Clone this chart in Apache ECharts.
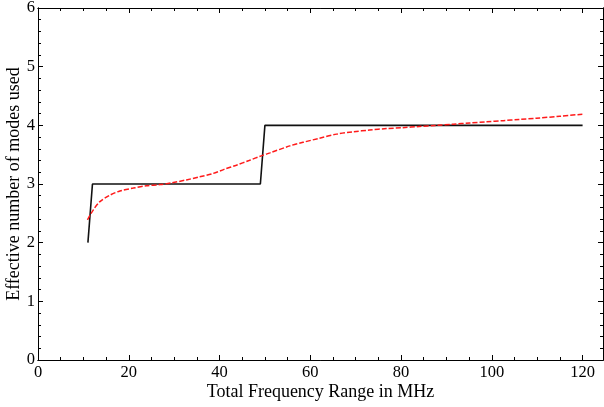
<!DOCTYPE html>
<html>
<head>
<meta charset="utf-8">
<script src="https://cdn.jsdelivr.net/npm/echarts@6/dist/echarts.min.js"></script>
<style>
html,body{margin:0;padding:0;background:#fff;}
#chart{width:604px;height:407px;}
</style>
</head>
<body>
<div id="chart"></div>
<script>
// Black step curve: effective number of modes used
const stepX = [11, 12, 49, 50, 120];
const stepY = [2, 3, 3, 4, 4];
// Red dashed smooth fit
const fitX = [10.9, 12.2, 13.65, 15.85, 18.05, 21.0, 23.9, 26.9, 29.5, 32.7, 35.5, 38.6, 41, 43.7, 46.5, 49.2, 51.1, 55.5, 58.4, 62, 65.8, 69.5, 73.1, 76.8, 80.4, 84, 87.8, 91.5, 95.1, 98.8, 102.5, 106, 109.8, 115, 120];
const fitY = [2.39, 2.56, 2.70, 2.81, 2.88, 2.93, 2.97, 2.99, 3.02, 3.07, 3.12, 3.18, 3.25, 3.32, 3.40, 3.48, 3.53, 3.65, 3.71, 3.78, 3.85, 3.89, 3.92, 3.945, 3.96, 3.98, 4.00, 4.02, 4.04, 4.06, 4.08, 4.10, 4.12, 4.155, 4.19];
const xTitle = 'Total Frequency Range in MHz';
const yTitle = 'Effective number of modes used';
const X_MAX = 124.5, X_MAJOR = 20, X_MINOR = 5;
const Y_MAX = 6, Y_MAJOR = 1, Y_MINOR = 0.2;

const FONT = '"Liberation Serif", "DejaVu Serif", serif';

function frameAxis(kind, position, interval, tickLen, withLabels) {
  const isX = kind === 'x';
  const ax = {
    type: 'value', position: position, min: 0, max: isX ? X_MAX : Y_MAX, interval: interval,
    axisLine: {show: true, onZero: false, lineStyle: {color: '#000', width: 1}},
    axisTick: {show: true, inside: true, length: tickLen, lineStyle: {color: '#000', width: 1}},
    splitLine: {show: false},
    axisLabel: {show: false}
  };
  if (withLabels) {
    ax.axisLabel = {show: true, showMaxLabel: !isX, margin: isX ? 4 : 3, color: '#000', fontFamily: FONT, fontSize: 16.5};
    ax.name = isX ? xTitle : yTitle;
    ax.nameLocation = 'middle';
    ax.nameGap = isX ? 23 : 15;
    ax.nameMoveOverlap = false;
    ax.nameTextStyle = {color: '#000', fontFamily: FONT, fontSize: 18};
  }
  return ax;
}

const chart = echarts.init(document.getElementById('chart'), null, {renderer: 'canvas'});
chart.setOption({
  animation: false,
  backgroundColor: '#fff',
  grid: {left: 38, right: 1, top: 8, bottom: 47, containLabel: false, outerBoundsMode: 'none'},
  xAxis: [
    frameAxis('x', 'bottom', X_MAJOR, 5, true),
    frameAxis('x', 'top', X_MAJOR, 5, false),
    frameAxis('x', 'bottom', X_MINOR, 3, false),
    frameAxis('x', 'top', X_MINOR, 3, false)
  ],
  yAxis: [
    frameAxis('y', 'left', Y_MAJOR, 5, true),
    frameAxis('y', 'right', Y_MAJOR, 5, false),
    frameAxis('y', 'left', Y_MINOR, 3, false),
    frameAxis('y', 'right', Y_MINOR, 3, false)
  ],
  series: [
    {
      type: 'line', xAxisIndex: 0, yAxisIndex: 0, showSymbol: false, smooth: false,
      data: stepX.map((x, i) => [x, stepY[i]]),
      lineStyle: {color: '#111', width: 1.6}
    },
    {
      type: 'line', xAxisIndex: 0, yAxisIndex: 0, showSymbol: false, smooth: 0.3,
      data: fitX.map((x, i) => [x, fitY[i]]),
      lineStyle: {color: '#ff1a1a', width: 1.5, type: [5, 2]}
    }
  ]
});
</script>
</body>
</html>
